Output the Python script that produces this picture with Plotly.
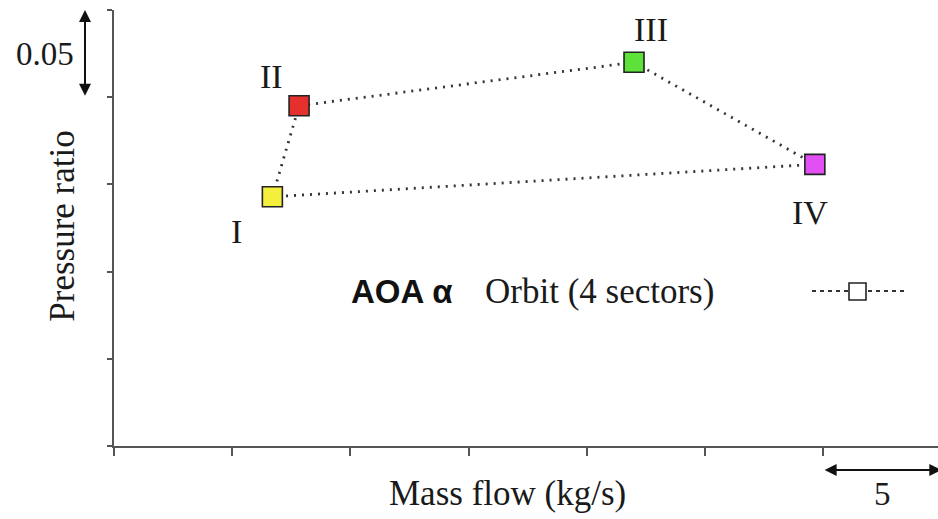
import plotly.graph_objects as go

# Data (relative units)
sectors = ["I", "II", "III", "IV"]
mass_flow = [6.70, 7.83, 22.0, 29.65]
pressure_ratio = [0.1429, 0.1951, 0.2200, 0.1615]
colors = ["#f4ee3c", "#e5312e", "#5ee23a", "#e24ff2"]
label_shift = [(-36, -35), (-28, 29), (17, 33), (-5, -48)]

x_range = [0, 34.86]
y_range = [0, 0.25]
x_tick_step = 5
y_tick_step = 0.05

SERIF = "Liberation Serif, Times New Roman, serif"
SANS = "Liberation Sans, Arial, sans-serif"

fig = go.Figure()

# closed orbit loop
loop_x = mass_flow + [mass_flow[0]]
loop_y = pressure_ratio + [pressure_ratio[0]]
fig.add_trace(go.Scatter(
    x=loop_x, y=loop_y, mode="lines",
    line=dict(color="#333333", width=2.8, dash="2px,6px"),
    hoverinfo="skip", showlegend=False,
))
fig.add_trace(go.Scatter(
    x=mass_flow, y=pressure_ratio, mode="markers",
    marker=dict(symbol="square", size=20, color=colors,
                line=dict(color="#222222", width=1.6)),
    text=sectors, showlegend=False,
))

annotations = []
for s, xv, yv, (dx, dy) in zip(sectors, mass_flow, pressure_ratio, label_shift):
    annotations.append(dict(
        x=xv, y=yv, xref="x", yref="y", text=s, showarrow=False,
        xshift=dx, yshift=dy, xanchor="center", yanchor="middle",
        font=dict(family=SERIF, size=34, color="#1a1a1a"),
    ))

# axis titles
annotations.append(dict(
    x=0.477, y=-0.11, xref="paper", yref="paper", text="Mass flow (kg/s)",
    showarrow=False, xanchor="center", yanchor="middle",
    font=dict(family=SERIF, size=35, color="#1a1a1a"),
))
annotations.append(dict(
    x=-0.062, y=0.505, xref="paper", yref="paper", text="Pressure ratio",
    showarrow=False, xanchor="center", yanchor="middle", textangle=-90,
    font=dict(family=SERIF, size=35, color="#1a1a1a"),
))

# scale arrows
annotations.append(dict(
    x=-0.0352, y=y_range[1], xref="paper", yref="y",
    ax=0, ay=y_range[1] - y_tick_step, axref="pixel", ayref="y",
    text="", showarrow=True, arrowhead=2, startarrowhead=2,
    arrowside="end+start", arrowsize=1.2, startarrowsize=1.2,
    arrowwidth=2, arrowcolor="#111111",
))
annotations.append(dict(
    x=-0.046, y=y_range[1] - y_tick_step / 2, xref="paper", yref="y",
    text="0.05", showarrow=False, xanchor="right", yanchor="middle",
    font=dict(family=SERIF, size=33, color="#1a1a1a"),
))
annotations.append(dict(
    x=30 + x_tick_step, y=-0.055, xref="x", yref="paper",
    ax=30, ay=0, axref="x", ayref="pixel",
    text="", showarrow=True, arrowhead=2, startarrowhead=2,
    arrowside="end+start", arrowsize=1.2, startarrowsize=1.2,
    arrowwidth=2, arrowcolor="#111111",
))
annotations.append(dict(
    x=30 + x_tick_step / 2, y=-0.111, xref="x", yref="paper",
    text="5", showarrow=False, xanchor="center", yanchor="middle",
    font=dict(family=SERIF, size=33, color="#1a1a1a"),
))

# legend-like text
annotations.append(dict(
    x=(349 - 114) / 824, y=(446 - 291) / 436, xref="paper", yref="paper",
    text="<b>AOA α</b>", showarrow=False, xanchor="left", yanchor="middle",
    font=dict(family=SANS, size=33, color="#111111"),
))
annotations.append(dict(
    x=(483 - 114) / 824, y=(446 - 291) / 436, xref="paper", yref="paper",
    text="Orbit (4 sectors)", showarrow=False, xanchor="left", yanchor="middle",
    font=dict(family=SERIF, size=35, color="#1a1a1a"),
))

shapes = [
    dict(type="line", xref="paper", yref="paper",
         x0=(812 - 114) / 824, x1=(905 - 114) / 824,
         y0=(446 - 291) / 436, y1=(446 - 291) / 436,
         line=dict(color="#333333", width=1.8, dash="4px,4px")),
    dict(type="rect", xref="paper", yref="paper",
         x0=(849 - 114) / 824, x1=(866 - 114) / 824,
         y0=(446 - 300) / 436, y1=(446 - 283) / 436,
         fillcolor="white", line=dict(color="#222222", width=1.6)),
]

fig.update_layout(
    width=938, height=519,
    margin=dict(l=114, r=0, t=10, b=73),
    paper_bgcolor="white", plot_bgcolor="white",
    annotations=annotations, shapes=shapes,
    showlegend=False,
)
fig.update_xaxes(
    range=x_range, dtick=x_tick_step, tick0=0, showgrid=False, zeroline=False,
    showline=True, linecolor="#555555", linewidth=2,
    ticks="outside", ticklen=8, tickwidth=2, tickcolor="#555555",
    showticklabels=False,
)
fig.update_yaxes(
    range=y_range, dtick=y_tick_step, tick0=0, showgrid=False, zeroline=False,
    showline=True, linecolor="#555555", linewidth=2,
    ticks="outside", ticklen=5, tickwidth=2, tickcolor="#555555",
    showticklabels=False,
)

fig.write_html("out.html")
